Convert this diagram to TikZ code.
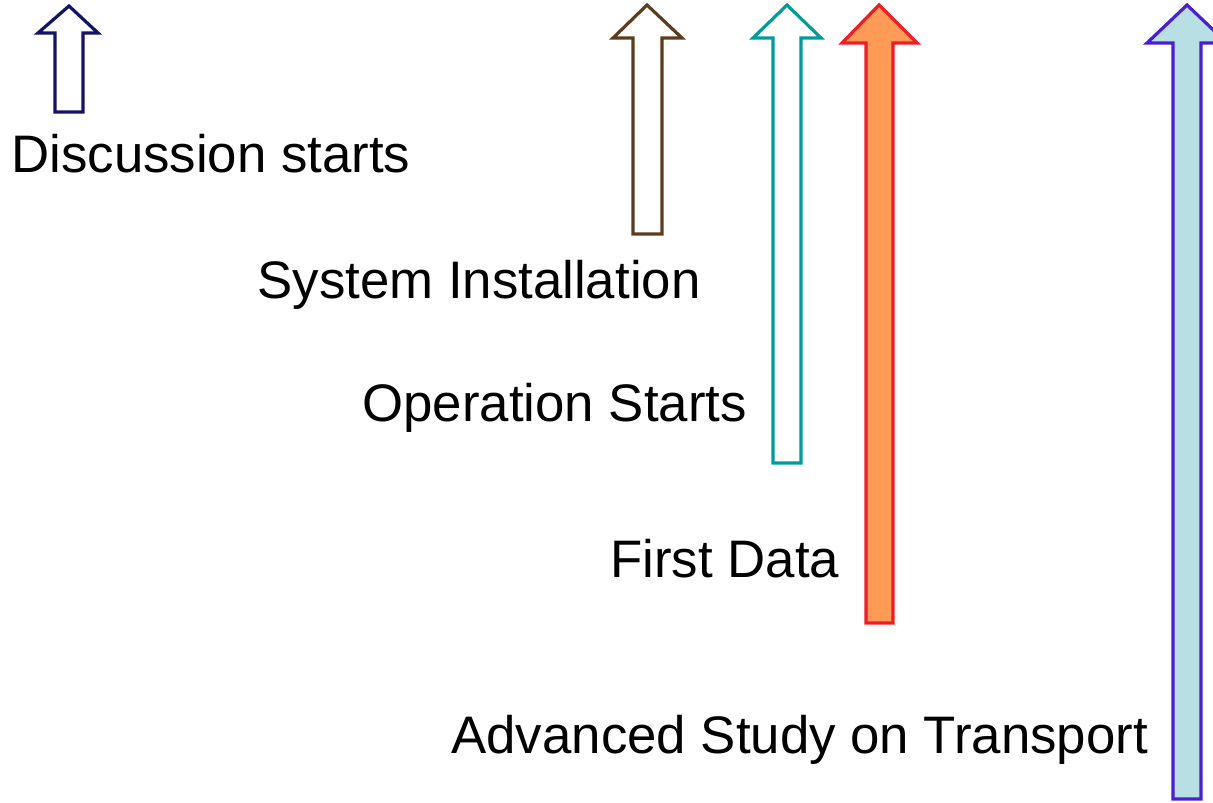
\documentclass[tikz,border=0pt]{standalone}
\usepackage{fontspec}
\setmainfont{Liberation Sans}
\usepackage{tikz}
\usepackage{xcolor}
\usetikzlibrary{positioning}
\definecolor{Step_Navy}{HTML}{141466}
\definecolor{Step_Brown}{HTML}{5C3D1E}
\definecolor{Step_Teal}{HTML}{009B9B}
\definecolor{Step_Red}{HTML}{EE1C25}
\definecolor{Step_Orange}{HTML}{FF9A57}
\definecolor{Step_Purple}{HTML}{4B1ECF}
\definecolor{Step_Ice}{HTML}{B7DFE4}

\begin{document}
\begin{tikzpicture}[x=0.5pt, y=-0.5pt, line join=miter,
    steparrow/.style={line width=1.6pt},
    steplabel/.style={anchor=base west, inner sep=0pt, font=\fontsize{26.4}{30}\selectfont}]
    \useasboundingbox (0,0) rectangle (1213,802);
    % Discussion starts
    \draw[steparrow, Step_Navy, fill=white]
        (55,112) -- (55,33) -- (38,33) -- (69,6) -- (98,33) -- (83,33) -- (83,112) -- cycle;
    % System installation
    \draw[steparrow, Step_Brown, fill=white]
        (633,234) -- (633,38) -- (613,38) -- (647,5) -- (682,38) -- (662,38) -- (662,234) -- cycle;
    % Operation starts
    \draw[steparrow, Step_Teal, fill=white]
        (773,463) -- (773,38) -- (753,38) -- (787,5) -- (821,38) -- (801,38) -- (801,463) -- cycle;
    % First data
    \draw[steparrow, Step_Red, fill=Step_Orange]
        (866,623) -- (866,43) -- (842,43) -- (879,5) -- (917,43) -- (893,43) -- (893,623) -- cycle;
    % Advanced study
    \draw[steparrow, Step_Purple, fill=Step_Ice]
        (1173,799) -- (1173,43) -- (1147,43) -- (1187,5) -- (1227,43) -- (1201,43) -- (1201,799) -- cycle;
    % Labels
    \node[steplabel] (discussion) at (11,173) {Discussion starts};
    \node[steplabel] (install) at (257,298) {System Installation};
    \node[steplabel] (operation) at (362,421) {Operation Starts};
    \node[steplabel] (firstdata) at (610,577) {First Data};
    \node[steplabel] (advanced) at (451,753) {Advanced Study on Transport};
\end{tikzpicture}
\end{document}
